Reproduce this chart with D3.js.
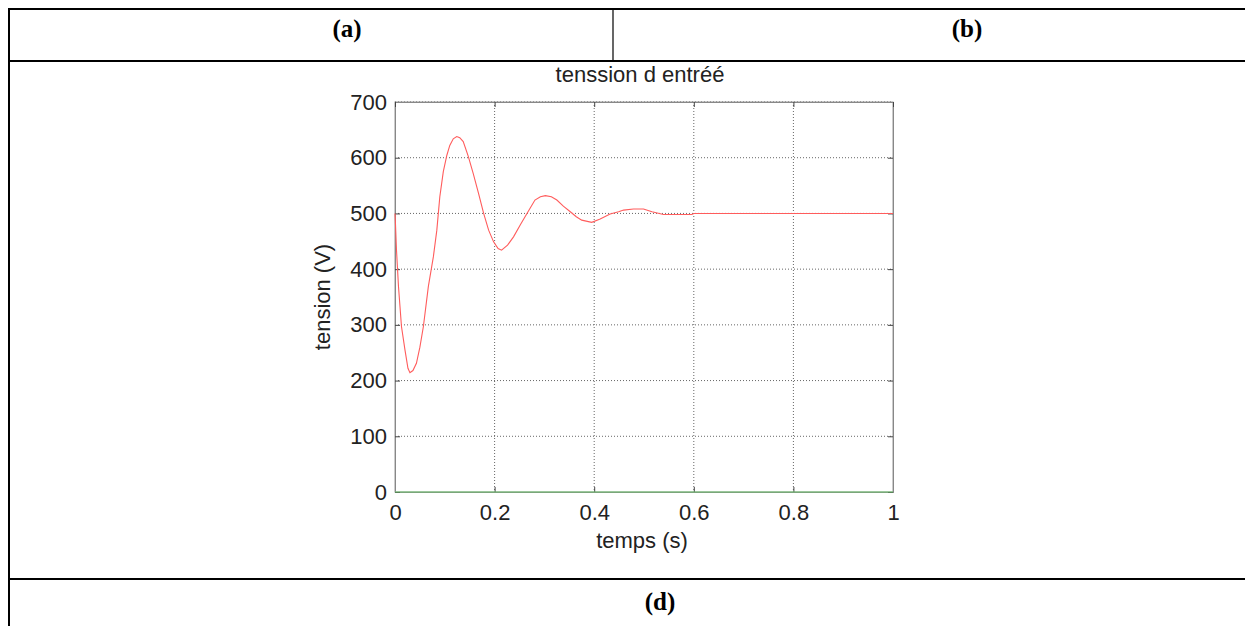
<!DOCTYPE html>
<html lang="fr">
<head>
    <meta charset="UTF-8">
    <title>tenssion d entréé</title>
    <script src="https://d3js.org/d3.v7.min.js"></script>
    <style>
        body { margin: 0; background: #fff; }
        .cell-label { font: bold 25px "Liberation Serif", "Times New Roman", serif; text-anchor: middle; }
        .plot-text { font-family: "Liberation Sans", Arial, sans-serif; fill: #222; }
        .grid line { stroke: #666; stroke-width: 1; stroke-dasharray: 1,2; }
        .axis path { stroke: #888; }
        .axis line { stroke: #444; }
        .axis text { font-family: "Liberation Sans", Arial, sans-serif; font-size: 22px; fill: #222; }
    </style>
</head>
<body>
<script>
    // valeurs
    const timeS = [0, 0.001, 0.003, 0.007, 0.013, 0.020, 0.026, 0.030, 0.036, 0.043, 0.050, 0.057,
        0.067, 0.077, 0.084, 0.090, 0.097, 0.104, 0.110, 0.117, 0.124, 0.130, 0.137, 0.147, 0.157, 0.168,
        0.178, 0.188, 0.198, 0.207, 0.214, 0.226, 0.238, 0.252, 0.265, 0.281, 0.292, 0.302, 0.314,
        0.325, 0.338, 0.352, 0.364, 0.375, 0.395, 0.412, 0.432, 0.449, 0.459, 0.479, 0.499, 0.516,
        0.539, 0.596, 0.600, 1.0];
    const tensionV = [500, 480, 434, 369, 297, 255, 222, 214, 218, 231, 260, 297,
        369, 422, 470, 530, 575, 604, 622, 634, 638, 636, 629, 603, 572, 535,
        500, 470, 449, 437, 434, 443, 458, 480, 500, 524, 530, 532, 530,
        524, 513, 503, 494, 488, 484, 490, 499, 503, 506, 508, 508, 503,
        498, 498, 500, 500];
    const zeroTime = [0, 1];
    const zeroValue = [0, 0];

    const xTicks = [0, 0.2, 0.4, 0.6, 0.8, 1];
    const yTicks = [0, 100, 200, 300, 400, 500, 600, 700];
    const cellLabels = ["(a)", "(b)", "(d)"];

    const W = 1245, H = 626;
    const svg = d3.select("body").append("svg")
        .attr("width", W)
        .attr("height", H);

    // tableau autour de la figure
    const table = svg.append("g");
    table.append("line").attr("x1", 9).attr("x2", W).attr("y1", 9).attr("y2", 9)
        .attr("stroke", "#000").attr("stroke-width", 2);
    table.append("line").attr("x1", 9).attr("x2", W).attr("y1", 61).attr("y2", 61)
        .attr("stroke", "#000").attr("stroke-width", 2);
    table.append("line").attr("x1", 9).attr("x2", W).attr("y1", 579).attr("y2", 579)
        .attr("stroke", "#000").attr("stroke-width", 2);
    table.append("line").attr("x1", 9).attr("x2", 9).attr("y1", 8).attr("y2", H)
        .attr("stroke", "#000").attr("stroke-width", 2);
    table.append("line").attr("x1", 613).attr("x2", 613).attr("y1", 9).attr("y2", 61)
        .attr("stroke", "#000").attr("stroke-width", 1.2);

    table.append("text").attr("class", "cell-label").attr("x", 347).attr("y", 37).text(cellLabels[0]);
    table.append("text").attr("class", "cell-label").attr("x", 967).attr("y", 37).text(cellLabels[1]);
    table.append("text").attr("class", "cell-label").attr("x", 660).attr("y", 610).text(cellLabels[2]);

    // zone du graphe
    const pLeft = 395, pRight = 893, pTop = 102, pBottom = 492;
    const x = d3.scaleLinear().domain([0, 1]).range([pLeft, pRight]);
    const y = d3.scaleLinear().domain([0, 700]).range([pBottom, pTop]);

    // cadre
    svg.append("rect")
        .attr("x", pLeft).attr("y", pTop)
        .attr("width", pRight - pLeft).attr("height", pBottom - pTop)
        .attr("fill", "none").attr("stroke", "#999");

    // grille
    const grid = svg.append("g").attr("class", "grid");
    grid.selectAll(".gx").data(xTicks.slice(1, -1)).join("line")
        .attr("x1", d => x(d)).attr("x2", d => x(d))
        .attr("y1", pTop).attr("y2", pBottom);
    grid.selectAll(".gy").data(yTicks.slice(1)).join("line")
        .attr("x1", pLeft).attr("x2", pRight)
        .attr("y1", d => y(d)).attr("y2", d => y(d));

    // axes (graduations vers l'intérieur)
    svg.append("g").attr("class", "axis")
        .attr("transform", `translate(0,${pBottom})`)
        .call(d3.axisBottom(x).tickValues(xTicks).tickFormat(d3.format("")).tickSize(-5).tickPadding(12));
    svg.append("g").attr("class", "axis")
        .attr("transform", `translate(${pLeft},0)`)
        .call(d3.axisLeft(y).tickValues(yTicks).tickSize(-5).tickPadding(8));
    svg.append("g").attr("class", "axis")
        .attr("transform", `translate(${pRight},0)`)
        .call(d3.axisRight(y).tickValues(yTicks).tickSize(-5).tickFormat(""));
    svg.append("g").attr("class", "axis")
        .attr("transform", `translate(0,${pTop})`)
        .call(d3.axisTop(x).tickValues(xTicks).tickSize(-5).tickFormat(""));

    // courbes
    const line = d3.line().x(d => x(d[0])).y(d => y(d[1]));
    svg.append("path")
        .datum(d3.zip(zeroTime, zeroValue))
        .attr("d", line)
        .attr("fill", "none")
        .attr("stroke", "#6cc46c")
        .attr("stroke-width", 1.2);
    svg.append("path")
        .datum(d3.zip(timeS, tensionV))
        .attr("d", line)
        .attr("fill", "none")
        .attr("stroke", "#ff5c5c")
        .attr("stroke-width", 1.1);

    // titres
    svg.append("text").attr("class", "plot-text")
        .attr("x", (pLeft + pRight) / 2 - 4).attr("y", 82)
        .attr("text-anchor", "middle").attr("font-size", 22)
        .text("tenssion d entréé");
    svg.append("text").attr("class", "plot-text")
        .attr("x", (pLeft + pRight) / 2 - 2).attr("y", 548)
        .attr("text-anchor", "middle").attr("font-size", 22)
        .text("temps (s)");
    svg.append("text").attr("class", "plot-text")
        .attr("transform", `translate(330,${(pTop + pBottom) / 2}) rotate(-90)`)
        .attr("text-anchor", "middle").attr("font-size", 22)
        .text("tension (V)");
</script>
</body>
</html>
